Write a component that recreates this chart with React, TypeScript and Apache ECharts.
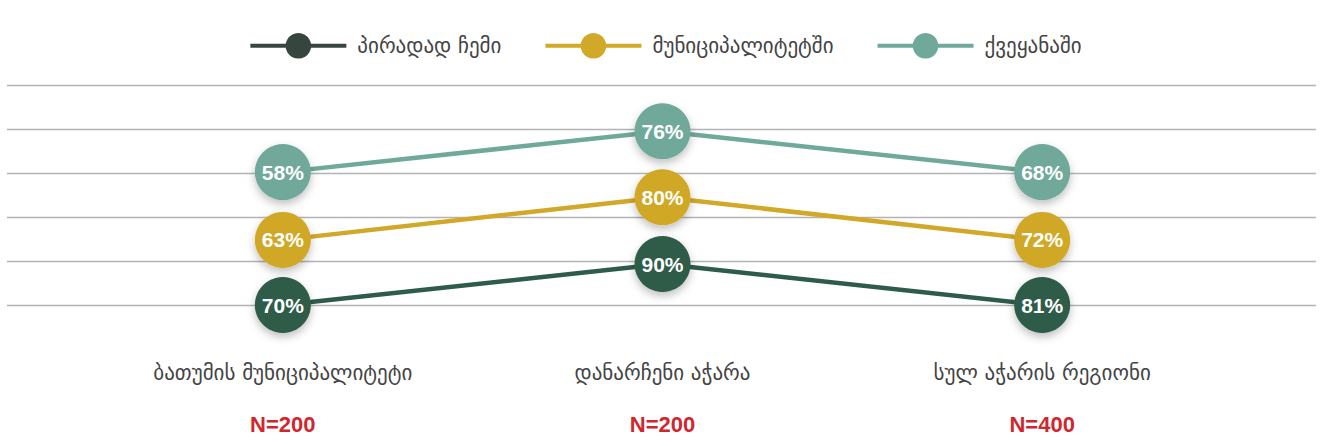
import React, { useEffect, useRef } from "react";
import * as echarts from "echarts";

const categories = ["ბათუმის მუნიციპალიტეტი", "დანარჩენი აჭარა", "სულ აჭარის რეგიონი"];
const sampleSizes = ["N=200", "N=200", "N=400"];
const seriesNames = ["პირადად ჩემი", "მუნიციპალიტეტში", "ქვეყანაში"];
const personalPct = [70, 90, 81];
const municipalityPct = [63, 80, 72];
const countryPct = [58, 76, 68];
// vertical placement of the markers in the picture (gridline units)
const personalLevel = [0, 0.93, 0];
const municipalityLevel = [1.48, 2.45, 1.48];
const countryLevel = [3.02, 3.95, 3.02];
const colors = ["#2f5b4a", "#d1a828", "#6fa99a"];
const legendColors = ["#35463f", "#d1a828", "#6fa99a"];

const GEO_FONT = "'DejaVu Sans', 'Noto Sans', sans-serif";
const NUM_FONT = "'Liberation Sans', Arial, sans-serif";

export default function App() {
  const ref = useRef<HTMLDivElement>(null);
  useEffect(() => {
    document.body.style.margin = "0";
    const chart = echarts.init(ref.current!, null, { renderer: "svg" });
    const pcts = [personalPct, municipalityPct, countryPct];
    const levels = [personalLevel, municipalityLevel, countryLevel];
    chart.setOption({
      animation: false,
      backgroundColor: "#ffffff",
      legend: {
        top: 28,
        left: "center",
        itemWidth: 96,
        itemHeight: 32,
        itemGap: 42,
        data: seriesNames.map((n, i) => ({
          name: n,
          itemStyle: { color: legendColors[i] },
          lineStyle: { color: legendColors[i], width: 4 },
        })),
        textStyle: { fontFamily: GEO_FONT, fontSize: 21, color: "#444", padding: [0, 0, 0, 6] },
      },
      grid: [
        { left: 7, right: 14, top: 85, height: 220 },
        { left: 93, right: 98, top: 85, height: 220 },
      ],
      xAxis: [
        { gridIndex: 0, type: "value", show: false, min: 0, max: 1 },
        {
          gridIndex: 1,
          type: "category",
          data: categories,
          boundaryGap: true,
          axisLine: { show: false },
          axisTick: { show: false },
          axisLabel: {
            margin: 82,
            formatter: (v: string) => {
              const i = categories.indexOf(v);
              return `{c|${v}}\n{n|${sampleSizes[i]}}`;
            },
            rich: {
              c: { fontFamily: GEO_FONT, fontSize: 21, color: "#444", lineHeight: 24, padding: [0, 0, 53, 0] },
              n: { fontFamily: NUM_FONT, fontSize: 22, fontWeight: "bold", color: "#d0272f", lineHeight: 26 },
            },
          },
        },
      ],
      yAxis: [
        {
          gridIndex: 0,
          type: "value",
          min: 0,
          max: 5,
          interval: 1,
          axisLabel: { show: false },
          axisLine: { show: false },
          axisTick: { show: false },
          splitLine: { lineStyle: { color: "#b3b3b3", width: 1.3 } },
        },
        { gridIndex: 1, type: "value", min: 0, max: 5, show: false, splitLine: { show: false } },
      ],
      series: seriesNames.map((n, s) => ({
        name: n,
        type: "line",
        xAxisIndex: 1,
        yAxisIndex: 1,
        data: levels[s],
        clip: false,
        symbol: "circle",
        symbolSize: 56,
        z: 2 + s,
        lineStyle: { color: colors[s], width: 4.5 },
        itemStyle: {
          color: colors[s],
          shadowBlur: 8,
          shadowColor: "rgba(0,0,0,0.25)",
          shadowOffsetY: 4,
        },
        label: {
          show: true,
          position: "inside",
          formatter: (p: any) => `${pcts[s][p.dataIndex]}%`,
          color: "#ffffff",
          fontFamily: NUM_FONT,
          fontWeight: "bold",
          fontSize: 21,
        },
      })),
    });
    return () => chart.dispose();
  }, []);
  return <div ref={ref} style={{ width: 1330, height: 446 }} />;
}
